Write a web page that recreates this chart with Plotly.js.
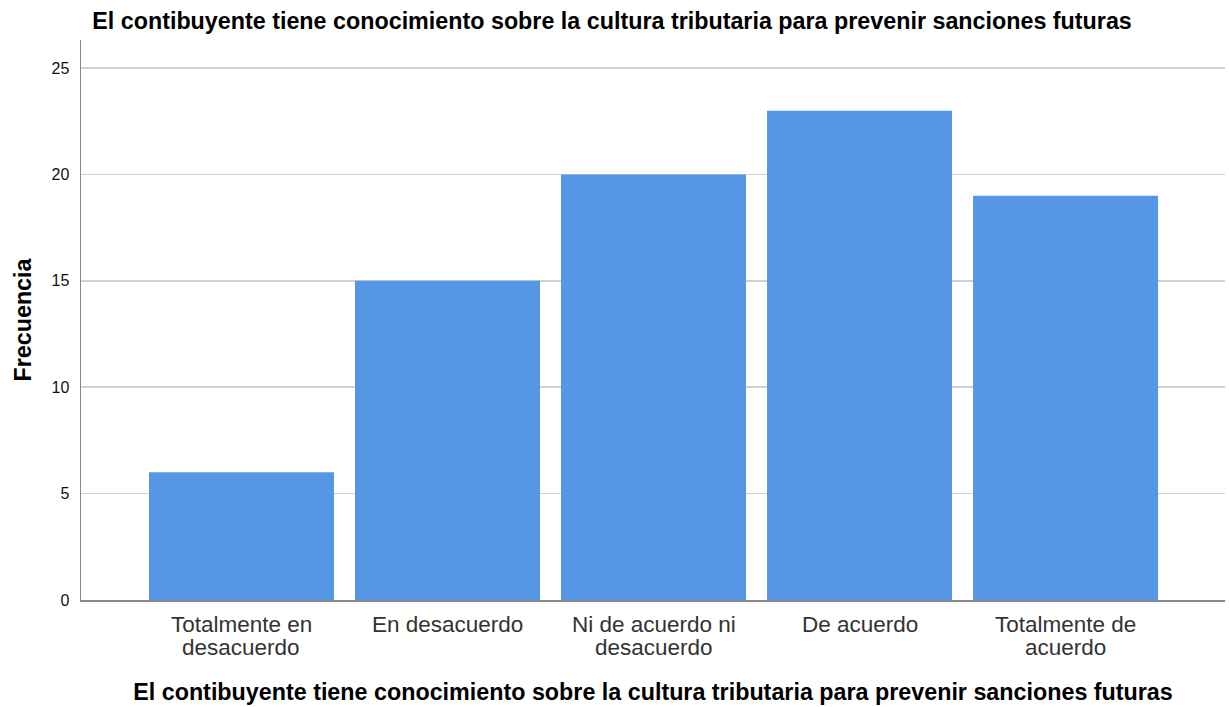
<!DOCTYPE html>
<html>
<head>
<meta charset="utf-8">
<script src="https://cdn.plot.ly/plotly-3.0.1.min.js"></script>
<style>html,body{margin:0;padding:0;background:#fff;}#chart{width:1229px;height:707px;}</style>
</head>
<body>
<div id="chart"></div>
<script>
const categories = ["Totalmente en desacuerdo", "En desacuerdo", "Ni de acuerdo ni desacuerdo", "De acuerdo", "Totalmente de acuerdo"];
const labelLines = [["Totalmente en", "desacuerdo"], ["En desacuerdo"], ["Ni de acuerdo ni", "desacuerdo"], ["De acuerdo"], ["Totalmente de", "acuerdo"]];
const frecuencia = [6, 15, 20, 23, 19];
const yTicks = [0, 5, 10, 15, 20, 25];
const titleText = "El contibuyente tiene conocimiento sobre la cultura tributaria para prevenir sanciones futuras";

const trace = {
  type: "bar",
  x: categories,
  y: frecuencia,
  width: 0.898,
  marker: {color: "#5596e5", line: {width: 0}},
  hoverinfo: "skip"
};

const annotations = [];
labelLines.forEach((lines, i) => {
  lines.forEach((ln, j) => {
    annotations.push({
      xref: "x", yref: "paper", x: categories[i], y: 0,
      text: ln, showarrow: false, xanchor: "center", yanchor: "middle",
      yshift: -24 - 23 * j,
      font: {family: "Liberation Sans, Arial, sans-serif", size: 22.5, color: "#333"}
    });
  });
});

const layout = {
  width: 1229, height: 707,
  margin: {l: 81, r: 4, t: 40, b: 107},
  paper_bgcolor: "#fff", plot_bgcolor: "#fff",
  font: {family: "Liberation Sans, Arial, sans-serif", color: "#000"},
  title: {text: "<b>" + titleText + "</b>", font: {size: 23.3, color: "#000"}, x: 0.498, xanchor: "center", y: 0.971, yanchor: "middle"},
  showlegend: false,
  bargap: 0.1,
  annotations: annotations,
  xaxis: {
    type: "category",
    range: [-0.779, 4.774],
    showticklabels: false,
    showgrid: false, zeroline: false,
    showline: true, linecolor: "#888", linewidth: 1.5,
    ticks: "",
    title: {text: "<b>" + titleText + "</b>", font: {size: 23.3, color: "#000"}, standoff: 83}
  },
  yaxis: {
    range: [0, 26.32],
    tickmode: "array", tickvals: yTicks,
    tickfont: {size: 16, color: "#111"},
    showgrid: true, gridcolor: "#d0d0d0", gridwidth: 1.5,
    zeroline: false,
    showline: true, linecolor: "#888", linewidth: 1.5,
    ticks: "", ticklabelstandoff: 7,
    title: {text: "<b>Frecuencia</b>", font: {size: 23.3, color: "#000"}, standoff: 13}
  }
};

Plotly.newPlot("chart", [trace], layout, {displayModeBar: false, staticPlot: true});
</script>
</body>
</html>
